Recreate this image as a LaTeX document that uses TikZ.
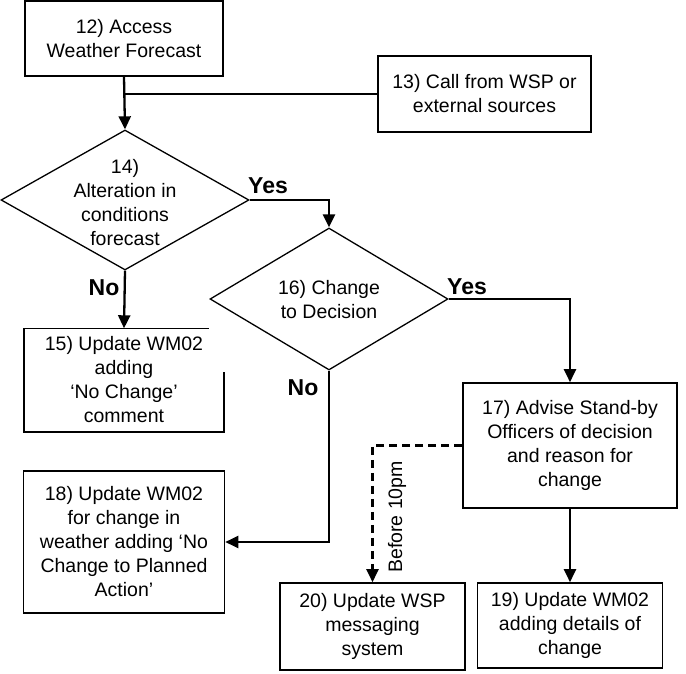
\documentclass[tikz,border=0pt]{standalone}
\usepackage{fontspec}
\setmainfont{Liberation Sans}
\usetikzlibrary{arrows.meta,shapes.geometric}
\begin{document}
\begin{tikzpicture}[x=1pt,y=-1pt,
 box/.style={draw,line width=1.6pt,inner sep=0pt,align=center,font=\fontsize{19.5}{24}\selectfont},
 plainbox/.style={inner sep=0pt,align=center,font=\fontsize{19.5}{24}\selectfont},
 dia/.style={draw,diamond,line width=1.3pt,inner sep=0pt},
 txt/.style={align=center,font=\fontsize{19.5}{24}\selectfont,inner sep=0pt},
 lbl/.style={font=\bfseries\fontsize{23}{27}\selectfont,inner sep=0pt},
 conn/.style={line width=2.3pt,-{Triangle[length=13pt,width=12pt]}},
 plainline/.style={line width=2.3pt},
 dashconn/.style={line width=2.3pt,dash pattern=on 8pt off 5pt,-{Triangle[length=13pt,width=12pt]}},
]
\useasboundingbox (0,0) rectangle (686,674);

\node[box,minimum width=198pt,minimum height=75pt] (b12) at (124,38.5) {12) Access\\Weather Forecast};
\node[box,minimum width=213pt,minimum height=76pt] (b13) at (484.5,94) {13) Call from WSP or\\external sources};

\node[dia,minimum width=248pt,minimum height=140pt] (d14) at (125,200) {};
\node[txt] (t14) at (125,203) {14)\\Alteration in\\conditions\\forecast};

\node[dia,minimum width=238pt,minimum height=142pt] (d16) at (329,299) {};
\node[txt] (t16) at (329,300) {16) Change\\to Decision};

\node[plainbox,minimum width=200pt,minimum height=103pt] (b15) at (124,380) {15) Update WM02\\adding\\`No Change'\\comment};
\draw[line width=1.6pt] ([xshift=185pt]b15.north west) -- (b15.north west) -- (b15.south west) -- (b15.south east) -- ([yshift=-44pt]b15.north east);

\node[box,minimum width=201pt,minimum height=142pt] (b18) at (124,542) {18) Update WM02\\for change in\\weather adding `No\\Change to Planned\\Action'};
\node[box,minimum width=214pt,minimum height=125pt] (b17) at (570,445.5) {17) Advise Stand-by\\Officers of decision\\and reason for\\change};
\node[box,minimum width=185pt,minimum height=85pt] (b19) at (570,625.5) {19) Update WM02\\adding details of\\change};
\node[box,minimum width=185pt,minimum height=87pt] (b20) at (372.5,626.5) {20) Update WSP\\messaging\\system};

% connectors
\draw[conn] (b12.south) -- (d14.north);
\draw[plainline] (b13.west) -- (b13.west -| b12.south);
\draw[conn] (d14.east) -| (d16.north);
\draw[conn] (d14.south) -- (b15.north);
\draw[conn] (d16.east) -| (b17.north);
\draw[conn] (d16.south) |- (b18.east);
\draw[conn] (b17.south) -- (b19.north);
\draw[dashconn] (b17.west) -| (b20.north);

% labels
\node[lbl] (yes1) at (268,186) {Yes};
\node[lbl] (no1) at (104,288) {No};
\node[lbl] (yes2) at (467,287) {Yes};
\node[lbl] (no2) at (303,388) {No};
\node[txt,rotate=90] (before) at (397,517) {Before 10pm};
\end{tikzpicture}
\end{document}
